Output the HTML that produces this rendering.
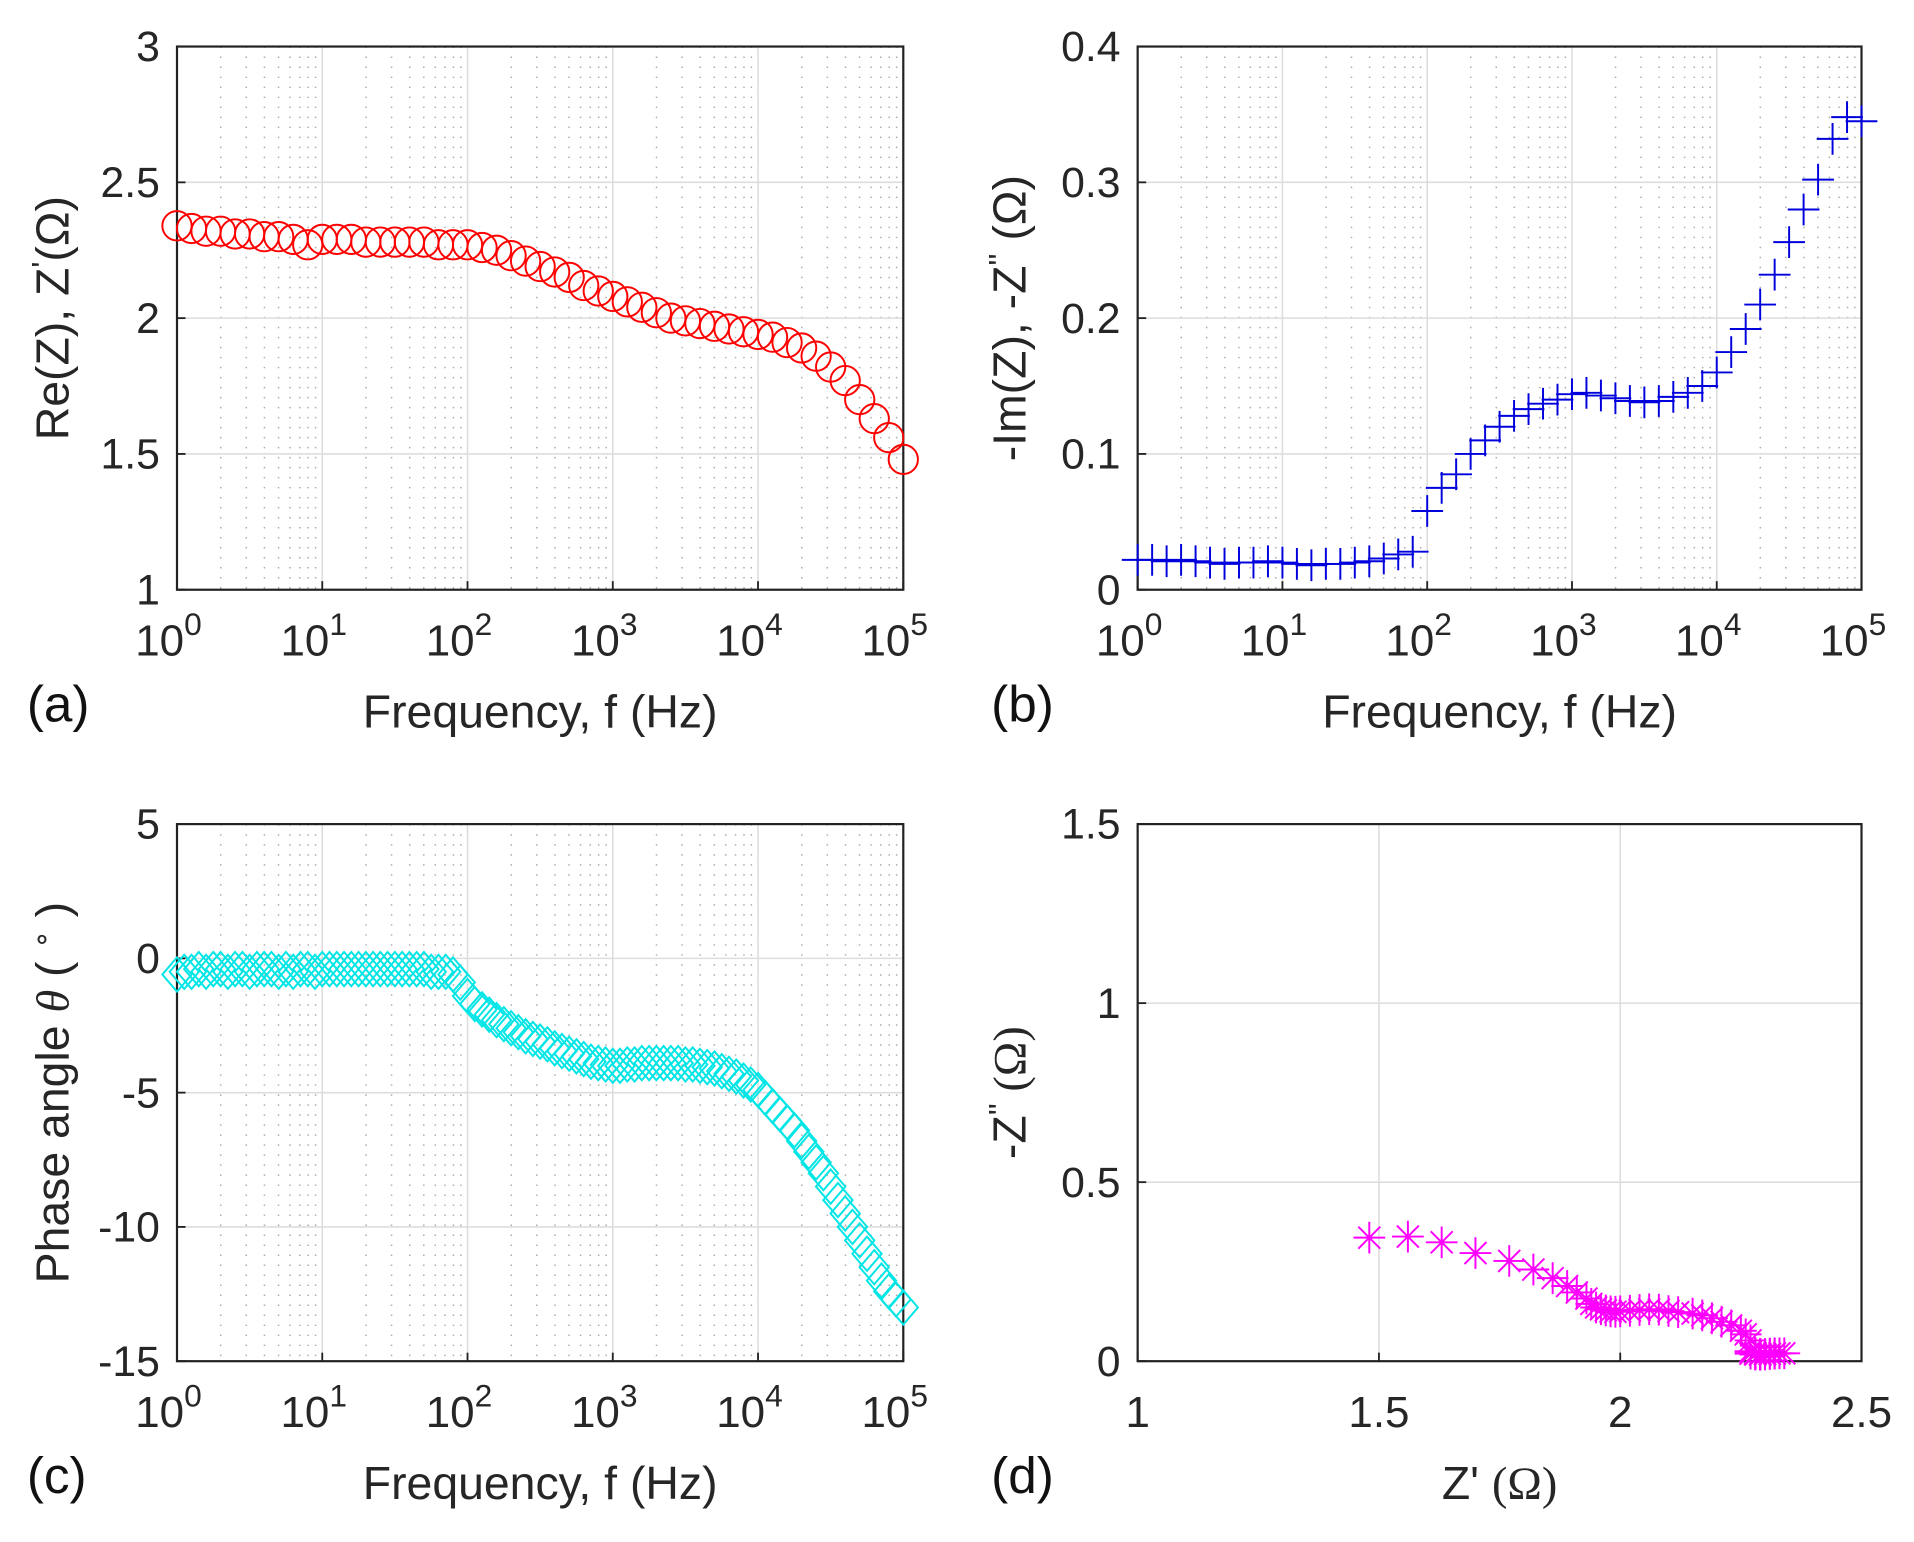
<!DOCTYPE html>
<html><head><meta charset="utf-8"><style>
html,body{margin:0;padding:0;background:#fff;}
svg{display:block;font-family:"Liberation Sans",Arial,sans-serif;}
</style></head><body>
<svg id="fig" width="1914" height="1542" viewBox="0 0 1568 1263" xmlns="http://www.w3.org/2000/svg">
</svg>
<script>
// ---- data ----
const logFreqA = [0,0.1,0.2,0.3,0.4,0.5,0.6,0.7,0.8,0.9,1,1.1,1.2,1.3,1.4,1.5,1.6,1.7,1.8,1.9,2,2.1,2.2,2.3,2.4,2.5,2.6,2.7,2.8,2.9,3,3.1,3.2,3.3,3.4,3.5,3.6,3.7,3.8,3.9,4,4.1,4.2,4.3,4.4,4.5,4.6,4.7,4.8,4.9,5];
const reZ = [2.34,2.33,2.32,2.32,2.31,2.31,2.30,2.30,2.29,2.27,2.29,2.29,2.29,2.28,2.28,2.28,2.28,2.28,2.27,2.27,2.27,2.26,2.25,2.23,2.21,2.19,2.17,2.15,2.12,2.10,2.08,2.06,2.04,2.02,2.00,1.99,1.98,1.97,1.96,1.95,1.94,1.93,1.91,1.89,1.86,1.82,1.77,1.70,1.63,1.56,1.48];
const imZ = [0.022,0.022,0.021,0.022,0.021,0.020,0.019,0.020,0.020,0.021,0.020,0.019,0.018,0.019,0.019,0.020,0.021,0.023,0.026,0.028,0.058,0.075,0.085,0.100,0.110,0.120,0.128,0.133,0.137,0.140,0.144,0.145,0.143,0.141,0.139,0.138,0.139,0.142,0.145,0.150,0.160,0.175,0.192,0.210,0.232,0.256,0.280,0.302,0.332,0.348,0.345];
const logFreqC = [0,0.05,0.1,0.15,0.2,0.25,0.3,0.35,0.4,0.45,0.5,0.55,0.6,0.65,0.7,0.75,0.8,0.85,0.9,0.95,1,1.05,1.1,1.15,1.2,1.25,1.3,1.35,1.4,1.45,1.5,1.55,1.6,1.65,1.7,1.75,1.8,1.85,1.9,1.95,2,2.05,2.1,2.15,2.2,2.25,2.3,2.35,2.4,2.45,2.5,2.55,2.6,2.65,2.7,2.75,2.8,2.85,2.9,2.95,3,3.05,3.1,3.15,3.2,3.25,3.3,3.35,3.4,3.45,3.5,3.55,3.6,3.65,3.7,3.75,3.8,3.85,3.9,3.95,4,4.05,4.1,4.15,4.2,4.25,4.3,4.35,4.4,4.45,4.5,4.55,4.6,4.65,4.7,4.75,4.8,4.85,4.9,4.95,5];
const phase = [-0.6,-0.5,-0.5,-0.4,-0.5,-0.4,-0.4,-0.5,-0.4,-0.4,-0.5,-0.4,-0.4,-0.4,-0.5,-0.4,-0.5,-0.4,-0.4,-0.5,-0.4,-0.4,-0.4,-0.4,-0.4,-0.4,-0.4,-0.4,-0.4,-0.4,-0.4,-0.4,-0.4,-0.4,-0.4,-0.5,-0.5,-0.5,-0.6,-0.9,-1.4,-1.7,-1.9,-2.1,-2.3,-2.45,-2.6,-2.75,-2.9,-3.0,-3.1,-3.2,-3.35,-3.45,-3.55,-3.65,-3.75,-3.85,-3.9,-3.95,-4.0,-4.0,-3.95,-3.95,-3.9,-3.9,-3.9,-3.9,-3.9,-3.9,-3.95,-3.95,-4.0,-4.05,-4.1,-4.2,-4.3,-4.4,-4.55,-4.7,-4.9,-5.2,-5.5,-5.8,-6.1,-6.4,-6.8,-7.2,-7.6,-8.0,-8.5,-9.0,-9.5,-10.0,-10.5,-11.0,-11.5,-12.0,-12.4,-12.7,-13.0];
const logTicks = [0,1,2,3,4,5];
const yTicksA = [1,1.5,2,2.5,3];
const yTickLabelsA = ["1","1.5","2","2.5","3"];
const yTicksB = [0,0.1,0.2,0.3,0.4];
const yTickLabelsB = ["0","0.1","0.2","0.3","0.4"];
const yTicksC = [-15,-10,-5,0,5];
const yTickLabelsC = ["-15","-10","-5","0","5"];
const xTicksD = [1,1.5,2,2.5];
const xTickLabelsD = ["1","1.5","2","2.5"];
const yTicksD = [0,0.5,1,1.5];
const yTickLabelsD = ["0","0.5","1","1.5"];

const NS="http://www.w3.org/2000/svg";
const svg=document.getElementById('fig');
function mk(tag,attrs,parent){const e=document.createElementNS(NS,tag);for(const k in attrs)e.setAttribute(k,attrs[k]);(parent||svg).appendChild(e);return e;}

function makePanel(P){
  const g=mk('g',{});
  
  
  const xs=v=>P.x0+(v-P.xmin)/(P.xmax-P.xmin)*(P.x1-P.x0);
  const ys=v=>P.y1-(v-P.ymin)/(P.ymax-P.ymin)*(P.y1-P.y0);
  if(P.log){
    for(let d=0;d<5;d++)for(let m=2;m<=9;m++){
      const x=xs(d+Math.log10(m));
      const l=mk('line',{x1:x,x2:x,y1:P.y0,y2:P.y1,stroke:'#aaa','stroke-width':1.2,'stroke-dasharray':'1.2 7'},g);
      
      
    }
  }
  P.xt.forEach(v=>{const x=xs(v);const l=mk('line',{x1:x,x2:x,y1:P.y0,y2:P.y1,stroke:'#ddd','stroke-width':1.3},g);
    });
  P.yt.forEach(v=>{const y=ys(v);const l=mk('line',{x1:P.x0,x2:P.x1,y1:y,y2:y,stroke:'#ddd','stroke-width':1.3},g);
    });
  P.yt.forEach((v,i)=>{const t=mk('text',{x:P.x0-14,y:ys(v)+12,'font-size':35,'text-anchor':'end',fill:'#262626'},g);
    t.textContent=P.ytl[i];
    const tk=mk('line',{x1:P.x0,x2:P.x0+7,y1:ys(v),y2:ys(v),stroke:'#222','stroke-width':1.5},g);
    });
  P.xt.forEach((v,i)=>{
    const t=mk('text',{x:xs(v),y:P.y1+54,'font-size':36,'text-anchor':'middle',fill:'#262626'},g);
    if(P.log){t.textContent='10';const s=mk('tspan',{dy:-17,'font-size':26},t);s.textContent=String(P.xtl[i]);t.setAttribute('dx',-7);}
    else{t.textContent=P.xtl[i];}
    
    const tk=mk('line',{x1:xs(v),x2:xs(v),y1:P.y1,y2:P.y1-7,stroke:'#222','stroke-width':1.5},g);
    });
  const b=mk('rect',{x:P.x0,y:P.y0,width:P.x1-P.x0,height:P.y1-P.y0,fill:'none',stroke:'#222','stroke-width':1.8},g);
  
  const xl=mk('text',{x:(P.x0+P.x1)/2,y:P.y1+113,'font-size':38,'text-anchor':'middle',fill:'#262626'},g);
  xl.innerHTML=P.xlabel;
  const yc=(P.y0+P.y1)/2;
  const yl=mk('text',{x:P.ylx,y:yc,'font-size':38,'text-anchor':'middle',fill:'#262626',transform:`rotate(-90 ${P.ylx} ${yc})`},g);
  yl.innerHTML=P.ylabel;
  const pl=mk('text',{x:P.plx,y:P.y1+108,'font-size':42,fill:'#111'},g);
  pl.textContent=P.panel;
  const mg=mk('g',{fill:'none',stroke:P.color,'stroke-width':1.6},g);
  
  P.xs.forEach((xv,i)=>{
    const cx=xs(xv),cy=ys(P.ys[i]);let m;
    if(P.marker==='o'){m=mk('circle',{cx:cx,cy:cy,r:12},mg);}
    else if(P.marker==='+'){m=mk('path',{d:`M${cx-13} ${cy}H${cx+13}M${cx} ${cy-13}V${cy+13}`},mg);}
    else if(P.marker==='d'){m=mk('path',{d:`M${cx} ${cy-14}L${cx+12} ${cy}L${cx} ${cy+14}L${cx-12} ${cy}Z`},mg);}
    else {m=mk('path',{d:`M${cx-13} ${cy}H${cx+13}M${cx} ${cy-13}V${cy+13}M${cx-9} ${cy-9}L${cx+9} ${cy+9}M${cx-9} ${cy+9}L${cx+9} ${cy-9}`},mg);}
    
    
  });
}

makePanel({name:'panel-a-real-impedance',x0:145,x1:740,y0:38,y1:483,log:true,xmin:0,xmax:5,ymin:1,ymax:3,
  xt:logTicks,xtl:logTicks,yt:yTicksA,ytl:yTickLabelsA,xs:logFreqA,ys:reZ,color:'#ff0000',marker:'o',
  xlabel:'Frequency, f (Hz)',ylabel:'Re(Z), Z<tspan dy="-12" font-size="26">\'</tspan><tspan dy="12">(Ω)</tspan>',ylx:56,panel:'(a)',plx:22});
makePanel({name:'panel-b-imag-impedance',x0:932,x1:1525,y0:38,y1:483,log:true,xmin:0,xmax:5,ymin:0,ymax:0.4,
  xt:logTicks,xtl:logTicks,yt:yTicksB,ytl:yTickLabelsB,xs:logFreqA,ys:imZ,color:'#0000dd',marker:'+',
  xlabel:'Frequency, f (Hz)',ylabel:'-Im(Z), -Z<tspan dy="-12" font-size="26">\'\'</tspan><tspan dy="12"> (Ω)</tspan>',ylx:840,panel:'(b)',plx:812});
makePanel({name:'panel-c-phase-angle',x0:145,x1:740,y0:675,y1:1115,log:true,xmin:0,xmax:5,ymin:-15,ymax:5,
  xt:logTicks,xtl:logTicks,yt:yTicksC,ytl:yTickLabelsC,xs:logFreqC,ys:phase,color:'#00e5e5',marker:'d',
  xlabel:'Frequency, f (Hz)',ylabel:'Phase angle <tspan font-family="Liberation Serif" font-style="italic">θ</tspan> ( <tspan dy="-14" font-size="24">∘</tspan><tspan dy="14"> )</tspan>',ylx:56,panel:'(c)',plx:22});
makePanel({name:'panel-d-nyquist',x0:932,x1:1525,y0:675,y1:1115,log:false,xmin:1,xmax:2.5,ymin:0,ymax:1.5,
  xt:xTicksD,xtl:xTickLabelsD,yt:yTicksD,ytl:yTickLabelsD,xs:reZ,ys:imZ,color:'#ff00ff',marker:'*',
  xlabel:'Z\' <tspan font-family="Liberation Serif">(Ω)</tspan>',ylabel:'-Z<tspan dy="-12" font-size="26">\'\'</tspan><tspan dy="12" font-family="Liberation Serif"> (Ω)</tspan>',ylx:840,panel:'(d)',plx:812});
</script>
</body></html>
